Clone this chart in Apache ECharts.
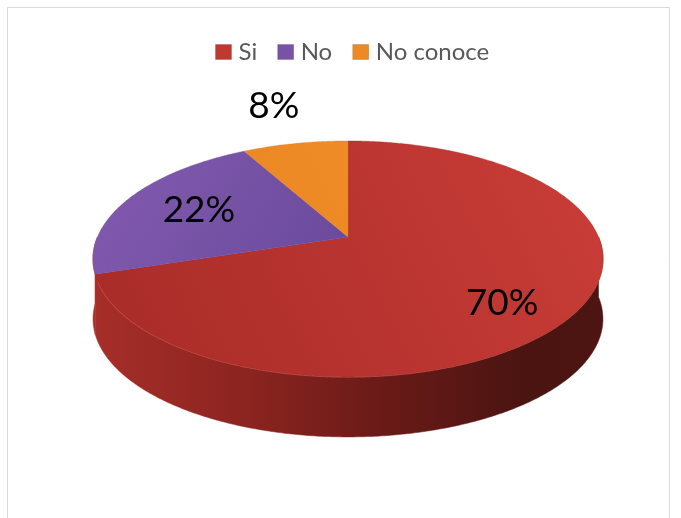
<!DOCTYPE html>
<html>
<head>
<meta charset="utf-8">
<style>
  html, body { margin: 0; padding: 0; background: #ffffff; }
  #chart { width: 681px; height: 518px; }
</style>
<script src="https://cdn.jsdelivr.net/npm/echarts@6/dist/echarts.min.js"></script>
</head>
<body>
<div id="chart"></div>
<script>
// Survey answers, in percent
const categories = ['Si', 'No', 'No conoce'];
const values = [70, 22, 8];

// Slice colours: top face gradient ends and legend swatch
const topColors = [
  ['#CA3D38', '#A92C28'],
  ['#7F58AC', '#6A4A9C'],
  ['#F7952F', '#E5801E']
];
const legendColors = ['#C0392F', '#7852A6', '#EE8A26'];

// Projection of the tilted disc (pie centre, radii, perspective, thickness)
const CX = 348, CY = 237, RX = 250.5, HY = 113.9, PERSP = 0.186, DEPTH = 60;
// Label placement: fraction of radius along mid angle, plus a small vertical nudge
const labelPlace = [{ r: 0.76, dy: 15 }, { r: 0.64, dy: 0 }, { r: 1.19, dy: 0 }];

const total = values.reduce((a, b) => a + b, 0);
const starts = [];
let acc = 0;
values.forEach(v => { starts.push(acc / total * 360); acc += v; });

function project(deg, f) {
  const t = deg * Math.PI / 180;
  const X = f * Math.sin(t), Z = f * Math.cos(t);
  const w = 1 + PERSP * Z;
  return [CX + RX * X / w, CY - HY * Z / w];
}

function arcPoints(a, b, f, dy) {
  const pts = [];
  const n = Math.max(2, Math.ceil((b - a) / 0.5));
  for (let k = 0; k <= n; k++) {
    const p = project(a + (b - a) * k / n, f);
    pts.push([p[0], p[1] + (dy || 0)]);
  }
  return pts;
}

// The outer wall is shaded as one continuous band, dark towards the right
const sideFill = new echarts.graphic.LinearGradient(93, 0, 603, 0, [
  { offset: 0, color: '#A72E29' },
  { offset: 0.3, color: '#8C2420' },
  { offset: 0.55, color: '#6C1B18' },
  { offset: 0.85, color: '#4A1411' },
  { offset: 1, color: '#4E1512' }
], true);

function renderSide(params, api) {
  const i = api.value(0);
  const a = Math.max(starts[i], 90);
  const b = Math.min(starts[i] + values[i] / total * 360, 270);
  if (b <= a) return null;
  const topEdge = arcPoints(a, b, 1, 0);
  const bottomEdge = arcPoints(a, b, 1, DEPTH).reverse();
  return {
    type: 'group',
    children: [
      {
        type: 'polygon',
        shape: { points: topEdge.concat(bottomEdge) },
        style: { fill: sideFill, stroke: sideFill, lineWidth: 0.5 }
      },
      {
        type: 'polyline',
        shape: { points: topEdge },
        style: { stroke: 'rgba(225,110,100,0.55)', lineWidth: 1.4, fill: null }
      }
    ]
  };
}

function renderTop(params, api) {
  const i = api.value(0);
  const a = starts[i];
  const b = a + values[i] / total * 360;
  const pts = [[CX, CY]].concat(arcPoints(a, b, 1, 0));
  const c = topColors[i];
  const fill = new echarts.graphic.LinearGradient(
    i === 1 ? 150 : 600, 150, i === 1 ? 340 : 130, i === 1 ? 270 : 380,
    [{ offset: 0, color: c[0] }, { offset: 1, color: c[1] }], true);
  const mid = (a + b) / 2;
  const lp = labelPlace[i];
  const t = mid * Math.PI / 180;
  const lx = CX + RX * lp.r * Math.sin(t);
  const ly = CY - HY * lp.r * Math.cos(t) + lp.dy;
  return {
    type: 'group',
    children: [
      {
        type: 'polygon',
        shape: { points: pts },
        style: { fill: fill, stroke: c[1], lineWidth: 0.4 }
      },
      {
        type: 'text',
        z2: 20,
        style: {
          x: lx, y: ly,
          text: Math.round(values[i] / total * 100) + '%',
          fill: '#000000',
          font: '37px Lato, "Open Sans", sans-serif',
          align: 'center',
          verticalAlign: 'middle'
        }
      }
    ]
  };
}

const series = [{
  type: 'custom',
  name: '_side',
  coordinateSystem: 'none',
  silent: true,
  z: 1,
  data: categories.map((_, i) => [i]),
  renderItem: renderSide
}];
categories.forEach((name, i) => {
  series.push({
    type: 'custom',
    name: name,
    coordinateSystem: 'none',
    silent: true,
    z: 2,
    color: legendColors[i],
    data: [[i]],
    renderItem: renderTop
  });
});

const chart = echarts.init(document.getElementById('chart'), null, { renderer: 'canvas' });
chart.setOption({
  backgroundColor: '#ffffff',
  animation: false,
  legend: {
    data: categories.map((n, i) => ({
      name: n,
      itemStyle: { color: legendColors[i], borderColor: 'rgba(0,0,0,0.15)', borderWidth: 1 }
    })),
    top: 35,
    left: 210,
    icon: 'rect',
    itemWidth: 16,
    itemHeight: 15,
    itemGap: 20,
    selectedMode: false,
    textStyle: { fontFamily: 'Lato, "Open Sans", sans-serif', fontSize: 24, color: '#595959', padding: [0, 0, 0, 2] }
  },
  graphic: [{
    type: 'rect',
    shape: { x: 7.5, y: 7.5, width: 662, height: 540 },
    style: { fill: null, stroke: '#D9D9D9', lineWidth: 1 },
    silent: true,
    z: 0
  }],
  series: series
});
</script>
</body>
</html>
